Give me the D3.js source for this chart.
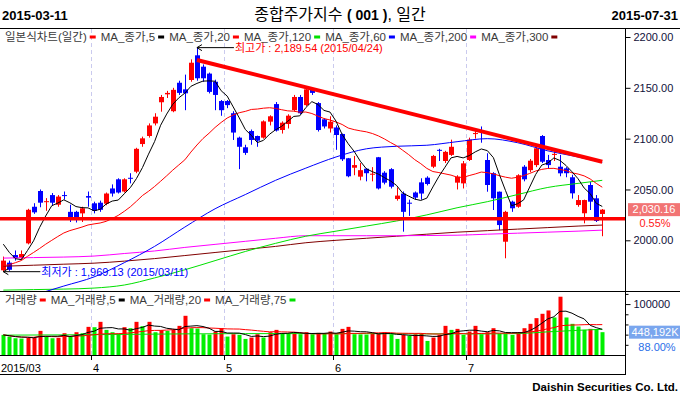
<!DOCTYPE html>
<html>
<head>
<meta charset="utf-8">
<script src="https://cdn.jsdelivr.net/npm/d3@7"></script>
<style>
  body { margin: 0; background: #fff; }
  svg { display: block; }
  text { font-family: "Liberation Sans", "Noto Sans CJK KR", sans-serif; }
</style>
</head>
<body>
<div id="chart"></div>
<script>
// trading days shown (2015)
const dates = [
  '03-11','03-12','03-13','03-16','03-17','03-18','03-19','03-20','03-23','03-24','03-25','03-26','03-27','03-30','03-31',
  '04-01','04-02','04-03','04-06','04-07','04-08','04-09','04-10','04-13','04-14','04-15','04-16','04-17','04-20','04-21',
  '04-22','04-23','04-24','04-27','04-28','04-29','04-30',
  '05-04','05-06','05-07','05-08','05-11','05-12','05-13','05-14','05-15','05-18','05-19','05-20','05-21','05-22','05-26',
  '05-27','05-28','05-29',
  '06-01','06-02','06-03','06-04','06-05','06-08','06-09','06-10','06-11','06-12','06-15','06-16','06-17','06-18','06-19',
  '06-22','06-23','06-24','06-25','06-26','06-29','06-30',
  '07-01','07-02','07-03','07-06','07-07','07-08','07-09','07-10','07-13','07-14','07-15','07-16','07-17','07-20','07-21',
  '07-22','07-23','07-24','07-27','07-28','07-29','07-30','07-31'
].map(d => '2015-' + d)

const opens = [
  1970.5, 1978, 1985.5, 1983, 1997, 2033, 2048.5, 2037.5, 2044.5, 2035,
  2044.5, 2028, 2028, 2026.5, 2043.5, 2036.4, 2037, 2036, 2051, 2060,
  2048, 2061.5, 2067.5, 2094.7, 2102.6, 2115, 2135.8, 2143.6, 2127, 2155,
  2148.5, 2157.7, 2182, 2170.8, 2164, 2156, 2137, 2137, 2125, 2101,
  2091.5, 2107.5, 2102.6, 2101, 2116.7, 2134, 2108.5, 2114.4, 2128, 2141,
  2133, 2148, 2135, 2119, 2110, 2111, 2104.6, 2080.7, 2071.4, 2062.6,
  2070.4, 2064.5, 2081.7, 2066.5, 2070, 2040.6, 2046, 2037, 2047, 2057,
  2061.6, 2072.4, 2089, 2078, 2084, 2056.7, 2056, 2079, 2104.5, 2107.5,
  2079, 2066, 2047.8, 1998.6, 2038, 2033, 2072.4, 2069, 2074, 2102.6,
  2079, 2084, 2072.4, 2070.8, 2062, 2034.7, 2026.6, 2054.4, 2041.3, 2025.9
]
const highs = [
  1984, 1980, 1990, 1990, 2031, 2036.5, 2050, 2041.5, 2046.5, 2044.5,
  2048, 2035, 2029, 2033, 2048, 2038, 2039, 2047, 2055, 2061,
  2061, 2066, 2091, 2102, 2115, 2125, 2143, 2147, 2150, 2157,
  2163, 2178, 2189.54, 2173, 2165, 2158, 2138, 2138, 2127, 2102,
  2094, 2109, 2103, 2118, 2123, 2136, 2117, 2124, 2143, 2143,
  2150, 2150, 2136, 2120, 2122, 2113, 2105, 2081, 2083, 2076,
  2071, 2072, 2082, 2068, 2071, 2052, 2048, 2040, 2048, 2061,
  2063, 2084, 2090, 2088, 2099, 2064, 2078, 2101, 2110, 2112,
  2085.6, 2067, 2048, 2029, 2039, 2065, 2074, 2080, 2094, 2103.5,
  2084, 2089, 2084, 2072, 2064.5, 2044.5, 2040, 2057.5, 2044.5, 2030.8
]
const lows = [
  1969.13, 1970, 1980, 1981, 1996, 2026, 2032.5, 2029, 2034, 2033,
  2040, 2018, 2017.5, 2018, 2033, 2026.5, 2028, 2034.5, 2043, 2046,
  2047, 2056, 2066, 2092, 2101, 2113, 2126.5, 2140, 2126, 2143,
  2128, 2156, 2157, 2156, 2144.5, 2128, 2122.5, 2130, 2098.7, 2070,
  2084, 2094, 2092, 2100, 2113, 2107, 2105, 2110, 2127, 2124,
  2132, 2143, 2107, 2110, 2106, 2089, 2078, 2062, 2064, 2059,
  2058, 2058, 2050, 2055, 2051, 2039, 2008.5, 2024, 2040, 2040,
  2054, 2071, 2078, 2076, 2083, 2050, 2051, 2078, 2100, 2096,
  2047.8, 2029.8, 2010, 1982.3, 2028, 2032, 2058, 2067, 2072, 2076,
  2071, 2078, 2063, 2062, 2041, 2033, 2016.7, 2029.8, 2018, 2004
]
const closes = [
  1980, 1971, 1982.5, 1986.5, 2030, 2027.5, 2037, 2038.5, 2037, 2043,
  2043.5, 2022.5, 2020, 2031.5, 2042, 2029, 2030, 2046, 2046, 2047,
  2060, 2060.5, 2090, 2100.3, 2113, 2121.6, 2141, 2145, 2148, 2145,
  2144.6, 2174.7, 2159.4, 2159.4, 2146, 2143, 2128, 2133, 2106, 2092,
  2086, 2098.7, 2098, 2117, 2122, 2108, 2115.7, 2122.6, 2141, 2125,
  2148.5, 2145, 2108.5, 2112, 2116.7, 2103.6, 2079.7, 2063, 2074, 2069,
  2066, 2065.5, 2051, 2056.7, 2052.7, 2044, 2028, 2036, 2042, 2046,
  2055.4, 2083, 2088, 2087, 2092, 2062.6, 2075.7, 2099, 2105.5, 2106.5,
  2054.4, 2041.3, 2015, 2028, 2031.5, 2064, 2060, 2078.3, 2090.5, 2077.3,
  2074, 2085, 2065.9, 2066, 2046.2, 2039.6, 2039.6, 2038, 2019.03, 2030.16
]
// closes of the 19 sessions before 03-11, estimated from where MA5/MA20 start
const closesBefore = [1946, 1945, 1943, 1948, 1952, 1958, 1955, 1961, 1968, 1973,
  1976, 1986, 1996, 2001, 2008, 2012, 2013, 1991, 1985]

// volume, in 10,000 shares
const volumes = [
  39480, 36190, 32900, 32240, 33560, 34220, 47380, 36190, 32900, 33560,
  42770, 36190, 44740, 42770, 55270, 54610, 65140, 49350, 44740, 42110,
  54610, 52640, 65140, 56590, 65140, 44740, 48690, 47380, 49350, 57250,
  76990, 52640, 51980, 40800, 40140, 46060, 52640, 36190, 40800, 39480,
  31580, 34220, 40800, 34220, 44740, 49350, 42770, 42110, 42770, 40800,
  44740, 40800, 43430, 42770, 46060, 40800, 51320, 55270, 40800, 40470,
  40140, 42770, 43100, 44740, 40800, 31580, 39480, 38160, 40800, 41450,
  27640, 34220, 39480, 57250, 49350, 51320, 39480, 46060, 57250, 40800,
  44740, 52640, 41450, 41130, 39480, 44740, 52640, 61190, 72380, 80930,
  87510, 73700, 114490, 73700, 61190, 55930, 49350, 51320, 50931, 44819.2
]

// long moving averages every 5 sessions
const maIdx = [0, 5, 10, 15, 20, 25, 30, 35, 40, 45, 50, 55, 60, 65, 70, 75, 80, 85, 90, 95, 99]
const ma60 = [1937, 1946, 1955, 1964, 1978, 1994, 2013, 2031, 2045, 2059, 2071,
  2082, 2090, 2092.5, 2093.5, 2097, 2100, 2096, 2088, 2082, 2076.5]
const ma120 = [1951, 1951.5, 1952, 1953, 1956, 1963, 1971, 1980, 1989, 1997, 2004,
  2009, 2014, 2019, 2025, 2032, 2038, 2045, 2052, 2056, 2059]
const ma200 = [1982.5, 1983, 1983.5, 1984.5, 1987, 1989.5, 1993, 1996, 1999, 2002, 2004.5,
  2004.5, 2004.5, 2004.5, 2004.7, 2005, 2006, 2007, 2008, 2009, 2010]
const ma300 = [1974.5, 1975.5, 1976.5, 1977.5, 1979.5, 1982, 1985, 1988, 1991, 1994, 1997.6,
  2000, 2002, 2004, 2006, 2008, 2009.5, 2011, 2012.5, 2014, 2015]

const volMaIdx = [0, 10, 20, 30, 40, 50, 60, 70, 80, 85, 90, 95, 99]
const volMa75 = [39000, 39500, 40500, 41500, 42000, 42000, 42000, 41500, 41500, 42000, 45500, 48500, 50500]

// hand-drawn lines on the chart: [session index, price]
const trendLine = [[32, 2177.4], [99, 2077.3]]
const supportLevel = 2021.25

const priceTicks = [2000, 2050, 2100, 2150, 2200]
const volTicks = [20000, 40000, 60000, 80000, 100000, 120000]

// layout
const W = 680, H = 399
const right = 625
const priceTop = 29, priceBottom = 291
const volTop = 291, volBottom = 355, axisBottom = 374

const svg = d3.select('#chart').append('svg').attr('width', W).attr('height', H)

const x = d3.scaleBand().domain(dates).range([0.3, 605.3])
const cx = d => x(d) + x.bandwidth() / 2
const px = d => Math.round(cx(d))
const y = d3.scaleLinear().domain([2000, 2200]).range([240.3, 37])
const yVol = d3.scaleLinear().domain([0, 125700]).range([volBottom, volTop])

const candles = dates.map((d, i) => ({
  date: d, o: opens[i], h: highs[i], l: lows[i], c: closes[i], v: volumes[i],
  up: closes[i] >= opens[i],
  volUp: i > 0 && volumes[i] >= volumes[i - 1]
}))

function movingAvg(values, n, before = []) {
  const all = before.concat(values)
  return values.map((_, i) => {
    const end = before.length + i + 1
    return d3.mean(all.slice(Math.max(0, end - n), end))
  })
}

const defs = svg.append('defs')
defs.append('clipPath').attr('id', 'pclip').append('rect')
  .attr('x', 0).attr('y', priceTop).attr('width', right).attr('height', priceBottom - priceTop)
defs.append('clipPath').attr('id', 'vclip').append('rect')
  .attr('x', 0).attr('y', volTop).attr('width', right).attr('height', volBottom - volTop)

// month gridlines
const monthStarts = dates.filter((d, i) => i > 0 && d.slice(5, 7) !== dates[i - 1].slice(5, 7))
svg.append('g')
  .selectAll('line')
  .data(monthStarts)
  .enter()
  .append('line')
  .attr('x1', d => Math.round(x(d)) + 0.5)
  .attr('x2', d => Math.round(x(d)) + 0.5)
  .attr('y1', priceTop)
  .attr('y2', volBottom)
  .attr('stroke', '#cacaee')
  .attr('stroke-dasharray', '4,3')

// price panel
const price = svg.append('g').attr('clip-path', 'url(#pclip)')

price.selectAll('.wick')
  .data(candles)
  .enter()
  .append('line')
  .attr('class', 'wick')
  .attr('x1', d => px(d.date) + 0.5)
  .attr('x2', d => px(d.date) + 0.5)
  .attr('y1', d => y(d.h))
  .attr('y2', d => y(d.l))
  .attr('stroke', d => (d.up ? '#ff0000' : '#0000ff'))

price.selectAll('.body')
  .data(candles)
  .enter()
  .append('rect')
  .attr('class', 'body')
  .attr('x', d => px(d.date) - 2)
  .attr('width', 5)
  .attr('y', d => y(Math.max(d.o, d.c)))
  .attr('height', d => Math.max(1, Math.abs(y(d.o) - y(d.c))))
  .attr('fill', d => (d.up ? '#ff0000' : '#0000ff'))

const sampledLine = d3.line()
  .x(p => cx(dates[p[0]]))
  .y(p => y(p[1]))
  .curve(d3.curveMonotoneX)

const longMAs = [
  { values: ma300, color: '#800000' },
  { values: ma200, color: '#ff00ff' },
  { values: ma120, color: '#00e000' },
  { values: ma60, color: '#0000ff' }
]
longMAs.forEach(m => {
  price.append('path')
    .datum(maIdx.map((idx, k) => [idx, m.values[k]]))
    .attr('d', sampledLine)
    .attr('fill', 'none')
    .attr('stroke', m.color)
    .attr('stroke-width', 1)
})

const ma5 = movingAvg(closes, 5, closesBefore)
const ma20 = movingAvg(closes, 20, closesBefore)
const dailyLine = d3.line().x((v, i) => cx(dates[i])).y(v => y(v))
price.append('path').datum(ma20).attr('d', dailyLine)
  .attr('fill', 'none').attr('stroke', '#ff0000').attr('stroke-width', 1)
price.append('path').datum(ma5).attr('d', dailyLine)
  .attr('fill', 'none').attr('stroke', '#000').attr('stroke-width', 1)

// drawn lines
price.append('line')
  .attr('x1', 0).attr('x2', right)
  .attr('y1', y(supportLevel)).attr('y2', y(supportLevel))
  .attr('stroke', '#ff0000').attr('stroke-width', 3.5)
price.append('line')
  .attr('x1', cx(dates[trendLine[0][0]])).attr('y1', y(trendLine[0][1]))
  .attr('x2', cx(dates[trendLine[1][0]])).attr('y2', y(trendLine[1][1]))
  .attr('stroke', '#ff0000').attr('stroke-width', 4)

// high / low markers
const hiIdx = d3.maxIndex(highs)
const loIdx = d3.minIndex(lows)
const fmt2 = d3.format(',.2f')
const slashDate = d => d.replace(/-/g, '/')

function marker(idx, value, color, label) {
  const x0 = cx(dates[idx])
  const y0 = y(value)
  const g = svg.append('g')
  g.append('line').attr('x1', x0).attr('x2', x0 + 37).attr('y1', y0).attr('y2', y0)
    .attr('stroke', '#000')
  g.append('path')
    .attr('d', `M${x0 + 5},${y0 - 3}L${x0},${y0}L${x0 + 5},${y0 + 3}`)
    .attr('fill', 'none').attr('stroke', '#000')
  g.append('text')
    .attr('x', x0 + 38).attr('y', y0)
    .attr('dy', '0.4em')
    .attr('font-size', 11)
    .attr('fill', color)
    .text(label + ' : ' + fmt2(value) + ' (' + slashDate(dates[idx]) + ')')
}
marker(hiIdx, highs[hiIdx], '#ff0000', '최고가')
marker(loIdx, lows[loIdx], '#0000ff', '최저가')

// volume panel
const vol = svg.append('g').attr('clip-path', 'url(#vclip)')
vol.selectAll('.vbar')
  .data(candles)
  .enter()
  .append('rect')
  .attr('class', 'vbar')
  .attr('x', d => px(d.date) - 1.5)
  .attr('width', 4)
  .attr('y', d => yVol(d.v))
  .attr('height', d => volBottom - yVol(d.v))
  .attr('fill', d => (d.volUp ? '#ff0000' : '#00f000'))

const volLine = d3.line().x((v, i) => cx(dates[i])).y(v => yVol(v))
vol.append('path')
  .datum(volMaIdx.map((idx, k) => [idx, volMa75[k]]))
  .attr('d', d3.line().x(p => cx(dates[p[0]])).y(p => yVol(p[1])).curve(d3.curveMonotoneX))
  .attr('fill', 'none').attr('stroke', '#00e000')
vol.append('path').datum(movingAvg(volumes, 20)).attr('d', volLine)
  .attr('fill', 'none').attr('stroke', '#ff0000')
vol.append('path').datum(movingAvg(volumes, 5)).attr('d', volLine)
  .attr('fill', 'none').attr('stroke', '#000')

// frame
const frame = svg.append('g').attr('stroke', '#000').attr('shape-rendering', 'crispEdges')
frame.append('line').attr('x1', 0).attr('x2', W).attr('y1', 28.5).attr('y2', 28.5)
frame.append('line').attr('x1', 0).attr('x2', W).attr('y1', volTop + 0.5).attr('y2', volTop + 0.5)
frame.append('line').attr('x1', 0).attr('x2', right).attr('y1', volBottom + 0.5).attr('y2', volBottom + 0.5)
frame.append('line').attr('x1', 0).attr('x2', right).attr('y1', axisBottom + 0.5).attr('y2', axisBottom + 0.5)
frame.append('line').attr('x1', right + 0.5).attr('x2', right + 0.5).attr('y1', 28.5).attr('y2', axisBottom + 0.5)

// price axis
const yAxis = d3.axisRight(y).tickValues(priceTicks).tickFormat(d3.format('.2f')).tickSize(5).tickPadding(3)
svg.append('g')
  .attr('transform', `translate(${right + 0.5},0)`)
  .call(yAxis)
  .call(g => g.select('.domain').remove())
  .call(g => g.selectAll('text').attr('font-size', 11).attr('font-family', null).attr('fill', '#10103a'))

// volume axis
const vAxis = d3.axisRight(yVol).tickValues(volTicks)
  .tickFormat(d => (d === 100000 ? '100000' : '')).tickSize(3).tickPadding(5)
svg.append('g')
  .attr('transform', `translate(${right + 0.5},0)`)
  .call(vAxis)
  .call(g => g.select('.domain').remove())
  .call(g => g.selectAll('line').filter(d => d === 100000).attr('x2', 5))
  .call(g => g.selectAll('text').attr('font-size', 11).attr('font-family', null).attr('fill', '#10103a'))

// month axis
svg.append('g')
  .selectAll('line')
  .data(monthStarts)
  .enter()
  .append('line')
  .attr('x1', d => Math.round(x(d)) + 0.5)
  .attr('x2', d => Math.round(x(d)) + 0.5)
  .attr('y1', volBottom)
  .attr('y2', volBottom + 5)
  .attr('stroke', '#000')
svg.append('g')
  .selectAll('text')
  .data([dates[0]].concat(monthStarts))
  .enter()
  .append('text')
  .attr('x', (d, i) => (i === 0 ? 1 : Math.round(x(d)) + 2))
  .attr('y', 368)
  .attr('dy', '0.35em')
  .attr('font-size', 11)
  .text((d, i) => (i === 0 ? d.slice(0, 7).replace('-', '/') : +d.slice(5, 7)))

// last price / volume tags
const last = candles[candles.length - 1]
const prevClose = closes[closes.length - 2]
const prevVol = volumes[volumes.length - 2]
svg.append('rect').attr('x', 628).attr('y', y(last.c) - 6.5).attr('width', 52).attr('height', 13)
  .attr('fill', '#f27474')
svg.append('text').attr('x', 654).attr('y', y(last.c)).attr('dy', '0.35em')
  .attr('text-anchor', 'middle').attr('font-size', 11).attr('fill', '#fff').text(fmt2(last.c))
svg.append('text').attr('x', 655).attr('y', y(last.c) + 14).attr('dy', '0.35em')
  .attr('text-anchor', 'middle').attr('font-size', 11).attr('fill', '#ff2020')
  .text(d3.format('.2f')((last.c / prevClose - 1) * 100) + '%')

svg.append('rect').attr('x', 629).attr('y', yVol(last.v) - 6.5).attr('width', 51).attr('height', 13)
  .attr('fill', '#7aa6ee')
svg.append('text').attr('x', 655).attr('y', yVol(last.v)).attr('dy', '0.35em')
  .attr('text-anchor', 'middle').attr('font-size', 11).attr('fill', '#fff')
  .text(d3.format(',')(Math.round(last.v * 10)) + 'K')
svg.append('text').attr('x', 657).attr('y', yVol(last.v) + 14.5).attr('dy', '0.35em')
  .attr('text-anchor', 'middle').attr('font-size', 11).attr('fill', '#2a6ee8')
  .text(d3.format('.2f')((last.v / prevVol) * 100) + '%')

// legends
function legend(items, x0, yMid) {
  let cursor = x0
  items.forEach(it => {
    const t = svg.append('text')
      .attr('x', cursor).attr('y', yMid).attr('dy', '0.35em')
      .attr('font-size', 11.5).attr('fill', '#3a3a3a')
      .text(it.label)
    const w = t.node().getComputedTextLength()
    svg.append('rect')
      .attr('x', cursor + w + 3).attr('y', yMid - 1.5)
      .attr('width', 6).attr('height', 3)
      .attr('fill', it.color)
    cursor += w + 14
  })
}
legend([
  { label: '일본식차트(일간)', color: '#ff0000' },
  { label: 'MA_종가,5', color: '#000' },
  { label: 'MA_종가,20', color: '#ff0000' },
  { label: 'MA_종가,120', color: '#00e000' },
  { label: 'MA_종가,60', color: '#0000ff' },
  { label: 'MA_종가,200', color: '#ff00ff' },
  { label: 'MA_종가,300', color: '#800000' }
], 5, 37)
legend([
  { label: '거래량', color: '#ff0000' },
  { label: 'MA_거래량,5', color: '#000' },
  { label: 'MA_거래량,20', color: '#ff0000' },
  { label: 'MA_거래량,75', color: '#00e000' }
], 5, 300)

// header
svg.append('text').attr('x', 2).attr('y', 19.5)
  .attr('font-size', 13).attr('font-weight', 'bold').text(dates[0])
svg.append('text').attr('x', 678).attr('y', 19.5).attr('text-anchor', 'end')
  .attr('font-size', 13).attr('font-weight', 'bold').text(dates[dates.length - 1])
const title = svg.append('text').attr('x', 340).attr('y', 19.5)
  .attr('text-anchor', 'middle').attr('font-size', 16)
title.append('tspan').text('종합주가지수 ')
title.append('tspan').attr('font-weight', 'bold').attr('font-size', 14).text('( 001 )')
title.append('tspan').text(', 일간')

svg.append('text').attr('x', 678).attr('y', 391).attr('text-anchor', 'end')
  .attr('font-family', 'DejaVu Sans').attr('font-weight', 'bold').attr('font-size', 11.5)
  .text('Daishin Securities Co. Ltd.')
</script>
</body>
</html>
